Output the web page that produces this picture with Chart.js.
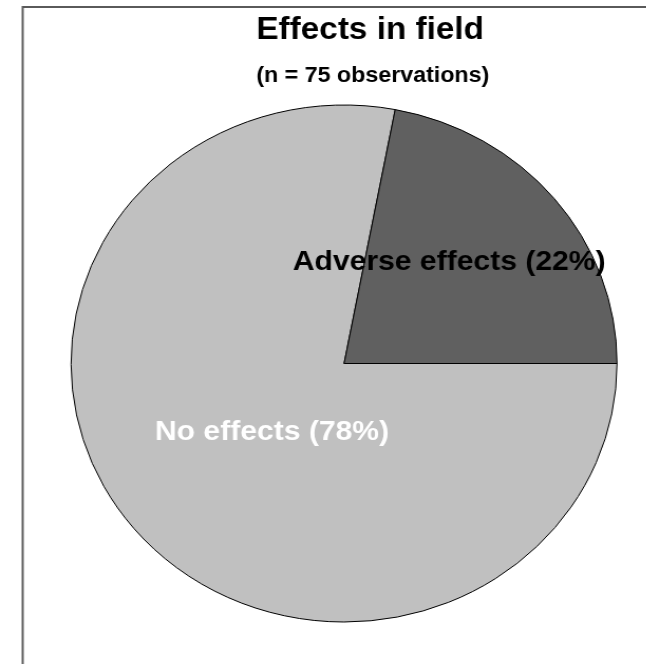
<!DOCTYPE html>
<html>
<head>
<meta charset="utf-8">
<script src="https://cdn.jsdelivr.net/npm/chart.js@4/dist/chart.umd.min.js"></script>
<style>
  html, body { margin: 0; padding: 0; background: #ffffff; overflow: hidden; }
  #wrap { width: 646px; height: 664px; overflow: hidden; }
  /* the drawing is widened slightly, as in the printed figure */
  #c { transform: scaleX(1.056); transform-origin: 0 0; }
</style>
</head>
<body>
<div id="wrap"><canvas id="c" width="612" height="664"></canvas></div>
<script>
// Field observations, share of outcomes (%)
const categories = ['No effects', 'Adverse effects'];
const shares = [78, 22];
const sliceLabels = ['No effects (78%)', 'Adverse effects (22%)'];
const titleText = 'Effects in field';
const subtitleText = '(n = 75 observations)';

const FONT = '"Liberation Sans", Arial, Helvetica, sans-serif';
const sliceColors = ['#c0c0c0', '#606060'];
const labelColors = ['#ffffff', '#000000'];
// label anchor, as a fraction of the radius from the pie centre
const labelAnchors = [[-0.264, 0.265], [0.385, -0.393]];

const framePlugin = {
  id: 'frame',
  beforeDraw(chart) {
    const ctx = chart.ctx;
    ctx.save();
    ctx.strokeStyle = '#5a5a5a';
    ctx.lineWidth = 2;
    ctx.beginPath();
    ctx.moveTo(21.5, chart.height + 2);
    ctx.lineTo(21.5, 7);
    ctx.lineTo(chart.width + 2, 7);
    ctx.stroke();
    ctx.restore();
  }
};

const headingPlugin = {
  id: 'heading',
  afterDraw(chart) {
    const ctx = chart.ctx;
    ctx.save();
    ctx.fillStyle = '#000000';
    ctx.textAlign = 'center';
    ctx.textBaseline = 'middle';
    ctx.font = 'bold 31.5px ' + FONT;
    ctx.fillText(titleText, 350.5, 30);
    ctx.font = 'bold 22px ' + FONT;
    ctx.fillText(subtitleText, 353, 76);
    ctx.restore();
  }
};

const sliceLabelPlugin = {
  id: 'sliceLabels',
  afterDatasetsDraw(chart) {
    const ctx = chart.ctx;
    const arcs = chart.getDatasetMeta(0).data;
    ctx.save();
    ctx.font = 'bold 28.5px ' + FONT;
    ctx.textAlign = 'center';
    ctx.textBaseline = 'middle';
    arcs.forEach((arc, i) => {
      const r = arc.outerRadius;
      ctx.fillStyle = labelColors[i];
      ctx.fillText(sliceLabels[i], arc.x + labelAnchors[i][0] * r, arc.y + labelAnchors[i][1] * r);
    });
    ctx.restore();
  }
};

new Chart(document.getElementById('c'), {
  type: 'pie',
  data: {
    labels: categories,
    datasets: [{
      data: shares,
      backgroundColor: sliceColors,
      borderColor: '#000000',
      borderWidth: 1,
      hoverOffset: 0
    }]
  },
  options: {
    responsive: false,
    animation: false,
    rotation: 90,
    layout: { padding: { left: 66.8, right: 27.2, top: 104.5, bottom: 41.5 } },
    plugins: {
      legend: { display: false },
      tooltip: { enabled: false },
      title: { display: false }
    }
  },
  plugins: [framePlugin, sliceLabelPlugin, headingPlugin]
});
</script>
</body>
</html>
